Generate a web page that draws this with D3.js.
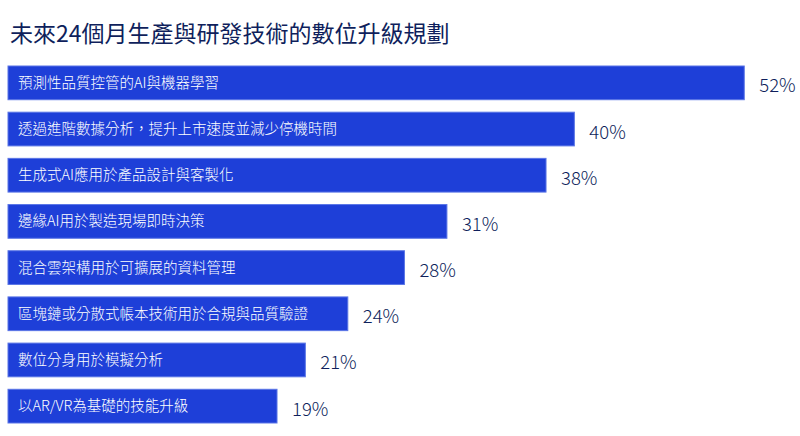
<!DOCTYPE html>
<head><style>body { margin: 0; background: #fff; }</style></head>
<body>
    <div class="container"></div>
    <script src="https://d3js.org/d3.v7.min.js"></script>
    <script>
        var title = '未來24個月生產與研發技術的數位升級規劃';
        var categories = [
            '預測性品質控管的AI與機器學習',
            '透過進階數據分析，提升上市速度並減少停機時間',
            '生成式AI應用於產品設計與客製化',
            '邊緣AI用於製造現場即時決策',
            '混合雲架構用於可擴展的資料管理',
            '區塊鏈或分散式帳本技術用於合規與品質驗證',
            '數位分身用於模擬分析',
            '以AR/VR為基礎的技能升級'
        ];
        var values = [52, 40, 38, 31, 28, 24, 21, 19];

        var svg = d3.select('.container')
                    .append('svg')
                    .attr('width', 800)
                    .attr('height', 436)
                    .style('font-family', '"Noto Sans CJK TC", "Noto Sans", sans-serif');

        svg.append('text')
           .attr('x', 10).attr('y', 42)
           .attr('fill', '#0f1f5c')
           .attr('font-size', 23)
           .attr('font-weight', 400)
           .text(title);

        var x = d3.scaleLinear().domain([0, 51.7]).range([8, 740]);
        var y = d3.scaleBand().domain(categories).range([60, 429]).paddingInner(0.27).paddingOuter(0.13);

        var row = svg.selectAll('g.row').data(categories).enter()
                     .append('g').attr('class', 'row')
                     .attr('transform', function(d) { return 'translate(0,' + y(d) + ')'; });

        row.append('rect')
           .attr('x', x(0))
           .attr('width', function(d, i) { return x(values[i]) - x(0); })
           .attr('height', y.bandwidth())
           .attr('fill', '#1e3fd8')
           .attr('stroke', '#5a75e6')
           .attr('stroke-width', 1);

        row.append('text')
           .attr('x', 18)
           .attr('y', y.bandwidth() / 2)
           .attr('dy', '0.35em')
           .attr('fill', '#fff')
           .attr('font-size', 14.5)
           .attr('font-weight', 300)
           .text(function(d) { return d; });

        row.append('text')
           .attr('x', function(d, i) { return x(values[i]) + 15; })
           .attr('y', y.bandwidth() / 2 + 3)
           .attr('dy', '0.35em')
           .attr('fill', '#0f1f5c')
           .attr('font-size', 18.5)
           .attr('font-weight', 300)
           .text(function(d, i) { return values[i] + '%'; });
    </script>
</body>
